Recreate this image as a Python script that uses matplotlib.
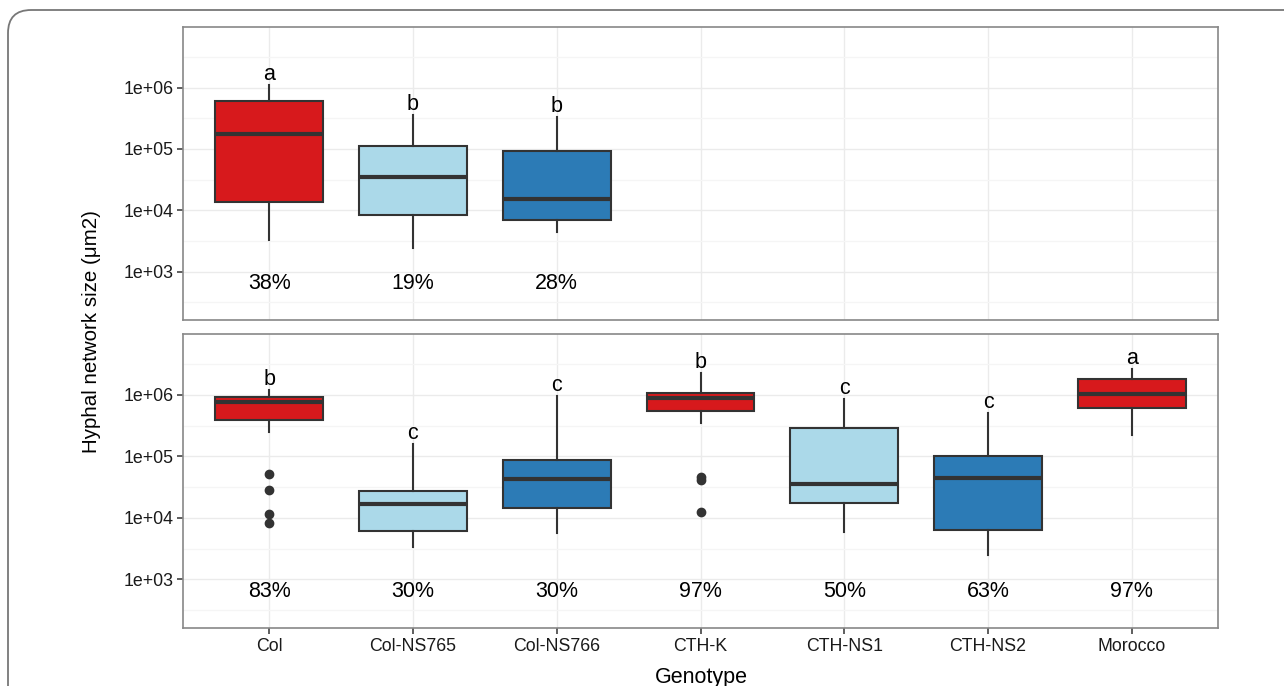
import matplotlib
matplotlib.use("Agg")
import matplotlib.pyplot as plt
from matplotlib.patches import FancyBboxPatch

plt.rcParams['font.family'] = ['Liberation Sans', 'DejaVu Sans']

# genotypes and fill colours
genotypes = ["Col", "Col-NS765", "Col-NS766", "CTH-K", "CTH-NS1", "CTH-NS2", "Morocco"]
box_colors = ["#D7191C", "#ABD9E9", "#2C7BB6", "#D7191C", "#ABD9E9", "#2C7BB6", "#D7191C"]

# top panel (first three genotypes)
top_whislo = [3300, 2400, 4470]
top_q1 = [13500, 8300, 6870]
top_med = [174000, 35500, 15100]
top_q3 = [617000, 112000, 92700]
top_whishi = [1110000, 359000, 336000]
top_fliers = [[], [], []]
top_letters = ["a", "b", "b"]
top_pct = ["38%", "19%", "28%"]

# bottom panel (all genotypes)
bot_whislo = [251000, 3390, 5710, 355000, 5890, 2450, 219000]
bot_q1 = [389000, 6170, 14300, 537000, 17200, 6310, 617000]
bot_med = [776000, 16600, 43600, 891000, 35100, 44500, 1020000]
bot_q3 = [927000, 27500, 87100, 1070000, 295000, 101000, 1800000]
bot_whishi = [1200000, 158000, 955000, 2250000, 861000, 513000, 2630000]
bot_fliers = [[51300, 28800, 11500, 8200], [], [], [45700, 40700, 12600], [], [], []]
bot_letters = ["b", "c", "c", "b", "c", "c", "a"]
bot_pct = ["83%", "30%", "30%", "97%", "50%", "63%", "97%"]

pct_y = 630
yticks = [1e3, 1e4, 1e5, 1e6]
ytick_labels = ["1e+03", "1e+04", "1e+05", "1e+06"]
yminor = [10**2.5, 10**3.5, 10**4.5, 10**5.5, 10**6.5]

W, H = 1284, 686
fig = plt.figure(figsize=(W / 100, H / 100), dpi=100)

# outer rounded frame
frame = FancyBboxPatch((8 / W, -0.1), 1.2, 1 - 10 / H + 0.1,
                       boxstyle="round,pad=0,rounding_size=0.018",
                       transform=fig.transFigure, fill=False,
                       edgecolor="#777777", linewidth=1.3, mutation_aspect=W / H)
fig.patches.append(frame)

left, right = 183 / W, 1218 / W
ax_top = fig.add_axes([left, 1 - 320 / H, right - left, 293 / H])
ax_bot = fig.add_axes([left, 1 - 628 / H, right - left, 294 / H])


def draw_panel(ax, whislo, q1, med, q3, whishi, fliers, letters, pct):
    n = len(med)
    stats = []
    for i in range(n):
        stats.append(dict(whislo=whislo[i], q1=q1[i], med=med[i], q3=q3[i],
                          whishi=whishi[i], fliers=fliers[i]))
    pos = list(range(1, n + 1))
    bp = ax.bxp(stats, positions=pos, widths=0.75, patch_artist=True,
                showcaps=False, showfliers=True,
                boxprops=dict(edgecolor="#333333", linewidth=1.5),
                medianprops=dict(color="#333333", linewidth=3.0, solid_capstyle="butt"),
                whiskerprops=dict(color="#333333", linewidth=1.5),
                flierprops=dict(marker="o", markerfacecolor="#333333",
                                markeredgecolor="#333333", markersize=6))
    for patch, c in zip(bp["boxes"], box_colors[:n]):
        patch.set_facecolor(c)
    for i in range(n):
        ax.annotate(letters[i], (pos[i], whishi[i]), xytext=(0, 3.5),
                    textcoords="offset points", ha="center", va="baseline",
                    fontsize=15.5, color="black")
        ax.text(pos[i], pct_y, pct[i], ha="center", va="center",
                fontsize=15.5, color="black")

    ax.set_yscale("log")
    ax.set_ylim(10**2.21, 10**6.99)
    ax.set_xlim(0.4, 7.6)
    ax.set_yticks(yticks)
    ax.set_yticklabels(ytick_labels)
    ax.set_yticks(yminor, minor=True)
    ax.set_xticks(range(1, 8))
    ax.set_axisbelow(True)
    ax.grid(which="major", color="#EBEBEB", linewidth=1.0)
    ax.grid(which="minor", axis="y", color="#F5F5F5", linewidth=0.9)
    ax.tick_params(which="minor", length=0)
    ax.tick_params(which="major", length=4, width=1.1, color="#333333",
                   labelsize=12.8, labelcolor="#1A1A1A", pad=3)
    for s in ax.spines.values():
        s.set_color("#888888")
        s.set_linewidth(1.2)


draw_panel(ax_top, top_whislo, top_q1, top_med, top_q3, top_whishi,
           top_fliers, top_letters, top_pct)
draw_panel(ax_bot, bot_whislo, bot_q1, bot_med, bot_q3, bot_whishi,
           bot_fliers, bot_letters, bot_pct)

ax_top.tick_params(axis="x", length=0, labelbottom=False)
ax_bot.set_xticklabels(genotypes)

fig.text(92 / W, 1 - 332 / H, "Hyphal network size (μm2)", rotation=90,
         ha="center", va="center", fontsize=14.8, color="black")
fig.text(701 / W, 1 - 667 / H, "Genotype", ha="center", va="top",
         fontsize=15.5, color="black")

fig.savefig("out.png", dpi=100)
